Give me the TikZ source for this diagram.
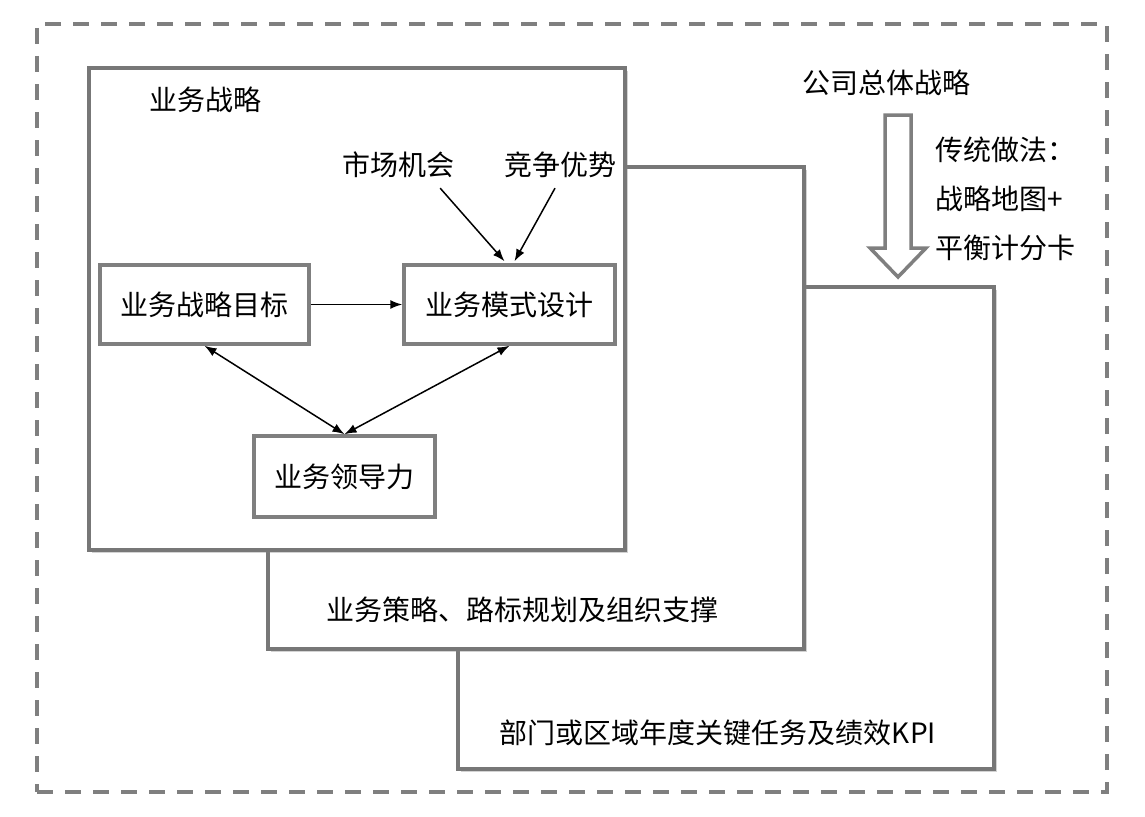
\documentclass[tikz,border=0pt]{standalone}
\usepackage{fontspec}
\setmainfont{Noto Sans CJK SC}
\usetikzlibrary{arrows.meta, shapes, shadows, calc}
\definecolor{framegray}{HTML}{7F7F7F}
\definecolor{layergray}{HTML}{777777}

\tikzset{
    label/.style={inner sep=0pt, font=\fontsize{28}{49}\selectfont},
    layer/.style={draw=layergray, line width=4.5pt, fill=white,
        drop shadow={opacity=0.35, shadow xshift=3pt, shadow yshift=-3pt},
        minimum width=536pt, minimum height=482pt},
    block/.style={draw=framegray, line width=3.5pt, fill=white, font=\fontsize{28}{32}\selectfont},
    link/.style={black, line width=1.5pt, -{Latex[length=12pt, width=9pt]}},
    twoway/.style={black, line width=1.5pt, {Latex[length=12pt, width=9pt]}-{Latex[length=12pt, width=9pt]}}
}

\begin{document}
\begin{tikzpicture}[x=1pt, y=-1pt]
    \useasboundingbox (0,0) rectangle (1145,816);

    % Frame
    \node (frame) at (572,408) [draw=framegray, line width=4pt, dash pattern=on 16pt off 12pt, minimum width=1070pt, minimum height=768pt] {};

    % Layers
    \node (kpi) at (726,528) [layer] {};
    \node (roadmap) at (536,408) [layer] {};
    \node (strategy) at (357,309) [layer] {};

    \node (kpi_label) at (718,733) [label] {部门或区域年度关键任务及绩效KPI};
    \node (roadmap_label) at (522,610) [label] {业务策略、路标规划及组织支撑};
    \node (strategy_label) at (205,100) [label] {业务战略};

    % Nodes
    \node (goal) at (204.5,304.5) [block, minimum width=209pt, minimum height=79pt] {业务战略目标};
    \node (mode) at (509.5,304.5) [block, minimum width=211pt, minimum height=79pt] {业务模式设计};
    \node (lead) at (344.5,476.5) [block, minimum width=181pt, minimum height=81pt] {业务领导力};

    \node (market) at (398,165) [label] {市场机会};
    \node (advantage) at (560,165) [label] {竞争优势};

    \node (corporate) at (886,83) [label] {公司总体战略};
    \node (practice) at (935,199) [label, anchor=west, align=left] {传统做法：\\战略地图+\\平衡计分卡};

    % Big hollow arrow
    \draw[framegray, line width=3.5pt, line join=miter, fill=white]
        (885,115) -- (911,115) -- (911,248) -- (926,248) -- (898,277)
        -- (870,248) -- (885,248) -- cycle;

    % Edges
    \draw[link] (goal.east) -- (mode.west);
    \draw[twoway] (goal.south) -- (lead.north);
    \draw[twoway] (mode.south) -- (lead.north);
    \draw[link] ($(market.south east)+(-14,10)$) -- ($(mode.north)+(-5,-2)$);
    \draw[link] ($(advantage.south)+(-5,10)$) -- ($(mode.north)+(5,-2)$);

\end{tikzpicture}
\end{document}
